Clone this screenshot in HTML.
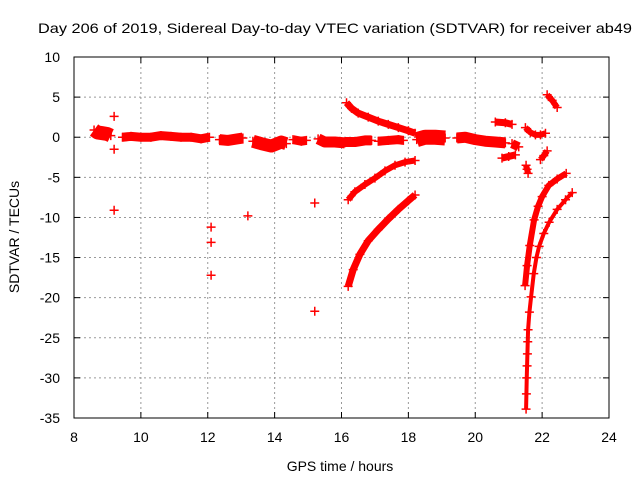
<!DOCTYPE html>
<html><head><meta charset="utf-8"><style>
body{margin:0;background:#fff;}
svg{display:block;font-family:"Liberation Sans",sans-serif;}
</style></head><body>
<svg id="chart" width="640" height="480" viewBox="0 0 640 480" xmlns="http://www.w3.org/2000/svg">
<text x="335" y="33" text-anchor="middle" font-size="14" textLength="594" lengthAdjust="spacingAndGlyphs">Day 206 of 2019, Sidereal Day-to-day VTEC variation (SDTVAR) for receiver ab49</text>
<g id="grid"></g>
<g id="axes"></g>
<g id="marks"></g>
<rect x="74" y="57" width="535" height="361" fill="none" stroke="#000" stroke-width="1"/>
<text x="340" y="471" text-anchor="middle" font-size="14">GPS time / hours</text>
<text transform="translate(19,237) rotate(-90)" text-anchor="middle" font-size="14">SDTVAR / TECUs</text>
</svg>
<script>
const xTicks=[8,10,12,14,16,18,20,22,24];
const yTicks=[10,5,0,-5,-10,-15,-20,-25,-30,-35];
const band1=[[8.6,0.9],[8.7,0.6],[8.85,0.5],[9.0,0.4],[9.1,0.2]];
const band2=[[9.45,0],[9.7,0.1],[10.0,0],[10.3,0],[10.6,0.2],[10.9,0.1],[11.2,0],[11.5,0],[11.8,-0.2],[12.05,0]];
const band3=[[12.35,-0.3],[12.6,-0.4],[12.9,-0.2],[13.05,-0.1]];
const band4=[[13.35,-0.5],[13.6,-0.8],[13.9,-1.1],[14.2,-0.6],[14.35,-0.8]];
const band5=[[14.55,-0.3],[14.8,-0.5],[14.95,-0.4]];
const band6=[[15.3,-0.2],[15.5,-0.6],[15.8,-0.6],[16.1,-0.7]];
const band7=[[16.1,-0.6],[16.4,-0.6],[16.7,-0.4],[16.9,-0.4]];
const band8=[[17.1,-0.5],[17.4,-0.4],[17.7,-0.3],[17.85,-0.4]];
const band9=[[18.25,-0.3],[18.5,0],[18.8,0],[19.1,-0.1]];
const band10=[[19.45,-0.1],[19.7,0],[20.0,-0.3],[20.3,-0.5],[20.6,-0.6],[20.9,-0.7]];
const band11=[[21.1,-0.8],[21.3,-1.2]];
const arcUpper=[[16.15,4.3],[16.3,3.6],[16.5,3.0],[16.8,2.5],[17.1,2.0],[17.4,1.6],[17.7,1.2],[18.0,0.8],[18.2,0.5]];
const arcMid=[[16.2,-7.8],[16.4,-6.8],[16.7,-5.9],[17.0,-5.1],[17.3,-4.2],[17.6,-3.5],[17.9,-3.1],[18.2,-2.9]];
const arcLow=[[16.2,-18.6],[16.35,-16.5],[16.55,-14.6],[16.8,-12.9],[17.1,-11.5],[17.4,-10.2],[17.7,-9.0],[18.0,-7.9],[18.2,-7.2]];
const blobA=[[20.6,1.9],[20.9,1.8],[21.1,1.6]];
const blobB=[[20.8,-2.6],[21.0,-2.4],[21.2,-2.2]];
const arcU=[[21.5,1.2],[21.65,0.6],[21.8,0.3],[21.95,0.3],[22.1,0.5]];
const smallA=[[21.52,-3.5],[21.55,-4.0],[21.58,-4.5]];
const smallB=[[21.95,-2.8],[22.05,-2.3],[22.15,-1.7]];
const arcTop=[[22.15,5.3],[22.3,4.6],[22.45,3.7]];
const curveE=[[21.49,-18.5],[21.55,-16.0],[21.63,-13.5],[21.76,-10.3],[21.88,-8.6],[22.0,-7.4],[22.2,-6.0],[22.45,-5.2],[22.72,-4.5]];
const curveF=[[21.52,-33.9],[21.53,-32.0],[21.54,-30.0],[21.55,-28.5],[21.56,-27.0],[21.57,-25.5],[21.58,-24.0],[21.62,-21.8],[21.67,-19.9],[21.75,-17.0],[21.83,-15.0],[21.91,-13.6],[22.05,-12.0],[22.21,-10.6],[22.45,-9.0],[22.7,-7.8],[22.9,-6.9]];
const isolated=[[9.2,2.6],[9.2,-1.5],[9.2,-9.1],[12.1,-11.2],[12.1,-13.1],[12.1,-17.2],[13.2,-9.8],[15.2,-8.2],[15.2,-21.7]];

const NS="http://www.w3.org/2000/svg";
const X=h=>74+(h-8)*(535/16);
const Y=v=>57+(10-v)*(361/45);
function mk(tag,attrs,parent){const e=document.createElementNS(NS,tag);for(const k in attrs)e.setAttribute(k,attrs[k]);parent.appendChild(e);return e;}
const grid=document.getElementById('grid'),axes=document.getElementById('axes'),marks=document.getElementById('marks');
xTicks.forEach(t=>{
  const x=X(t);
  if(t>8&&t<24){const g=mk('line',{x1:x,x2:x,y1:57,y2:418,stroke:'#999','stroke-dasharray':'2,3'},grid);
  
  }
  const a=mk('line',{x1:x,x2:x,y1:418,y2:412,stroke:'#000'},axes);
  
  
  const b=mk('line',{x1:x,x2:x,y1:57,y2:63,stroke:'#000'},axes);
  
  
  const l=mk('text',{x:x,y:442,'text-anchor':'middle','font-size':14},axes);
  l.textContent=t;
  
  
});
yTicks.forEach(t=>{
  const y=Y(t);
  if(t<10&&t>-35){const g=mk('line',{x1:74,x2:609,y1:y,y2:y,stroke:'#999','stroke-dasharray':'2,3'},grid);
  
  }
  const a=mk('line',{x1:74,x2:80,y1:y,y2:y,stroke:'#000'},axes);
  
  
  const b=mk('line',{x1:603,x2:609,y1:y,y2:y,stroke:'#000'},axes);
  
  
  const l=mk('text',{x:60,y:y+5,'text-anchor':'end','font-size':14},axes);
  l.textContent=t;
  
  
});
function series(pts,w,name){
  const g=mk('g',{},marks);
  
  
  if(pts.length>1&&w>0){
    const p=mk('polyline',{points:pts.map(d=>X(d[0])+','+Y(d[1])).join(' '),fill:'none',stroke:'#f00','stroke-width':w,'stroke-linecap':'butt','stroke-linejoin':'round'},g);
    
    
  }
  pts.forEach(d=>{
    const x=X(d[0]),y=Y(d[1]);
    const m=mk('path',{d:`M${x-4.5},${y}H${x+4.5}M${x},${y-4.5}V${y+4.5}`,stroke:'#f00','stroke-width':1.5,fill:'none'},g);
    
    
  });
}
series(band1,14,'band-1');series(band2,9,'band-2');series(band3,11,'band-3');series(band4,13,'band-4');
series(band5,9,'band-5');series(band6,11,'band-6');series(band7,10,'band-7');series(band8,9,'band-8');
series(band9,15,'band-9');series(band10,11,'band-10');series(band11,9,'band-11');
series(arcUpper,7,'arc-upper');series(arcMid,6,'arc-middle');series(arcLow,7,'arc-lower');
series(blobA,7,'blob-a');series(blobB,7,'blob-b');series(arcU,6,'arc-u');
series(smallA,6,'small-a');series(smallB,6,'small-b');series(arcTop,6,'arc-top');
series(curveE,6,'curve-e');series(curveF,4,'curve-f');
series(isolated,0,'isolated-points');
</script>
</body></html>
